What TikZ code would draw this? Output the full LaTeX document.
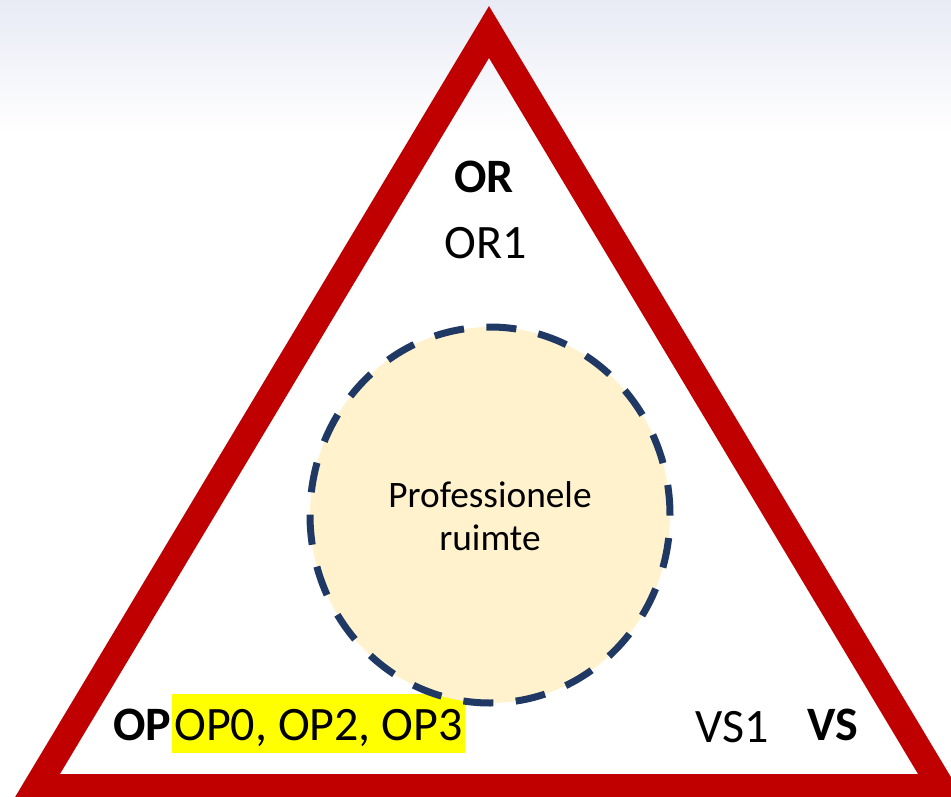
\documentclass[tikz,border=0pt]{standalone}
\usepackage{fontspec}
\usetikzlibrary{shapes.geometric}
\setmainfont{Carlito}
\definecolor{trired}{HTML}{C00000}
\definecolor{navy}{HTML}{1F3864}
\definecolor{cream}{HTML}{FFF2CC}
\definecolor{hl}{HTML}{FFFF00}
\definecolor{topgray}{HTML}{E8EBF5}
\begin{document}
\begin{tikzpicture}[x=0.75pt,y=-0.75pt,
  big/.style={font=\fontsize{36pt}{43pt}\selectfont, inner sep=0pt},
  bigbold/.style={big, font=\fontsize{36pt}{43pt}\selectfont\bfseries},
  inner/.style={font=\fontsize{28pt}{32.5pt}\selectfont, align=center, inner sep=0pt},
  space/.style={ellipse, draw=navy, fill=cream, line width=5.25pt,
    dash pattern=on 22.6pt off 16.8pt, minimum width=270pt, minimum height=282pt, inner sep=0pt}]
\useasboundingbox (0,0) rectangle (951,797);
\shade[top color=topgray, bottom color=white] (0,0) rectangle (951,135);
\coordinate (apex) at (489,32);
\coordinate (br) at (941.6,787.4);
\coordinate (bl) at (36.4,787.4);
\draw[trired, line width=20pt, line join=miter] (apex) -- (br) -- (bl) -- cycle;
\node[bigbold, anchor=base] (or) at (484,192) {OR};
\node[big, anchor=base] (or1) at (486,258) {OR1};
\node[bigbold, anchor=base west] (op) at (113,740) {OP};
\node[big, anchor=base west, fill=hl, inner xsep=1.5pt, text height=34.5pt, text depth=9.75pt] (ops) at (172,740) {OP0, OP2, OP3};
\node[big, anchor=base west] (vs1) at (695,742) {VS1};
\node[bigbold, anchor=base west] (vs) at (807,740) {VS};
\node[space] (pr) at (490,515) {};
\node[inner] (prtxt) at (490,516) {Professionele\\ruimte};
\end{tikzpicture}
\end{document}
